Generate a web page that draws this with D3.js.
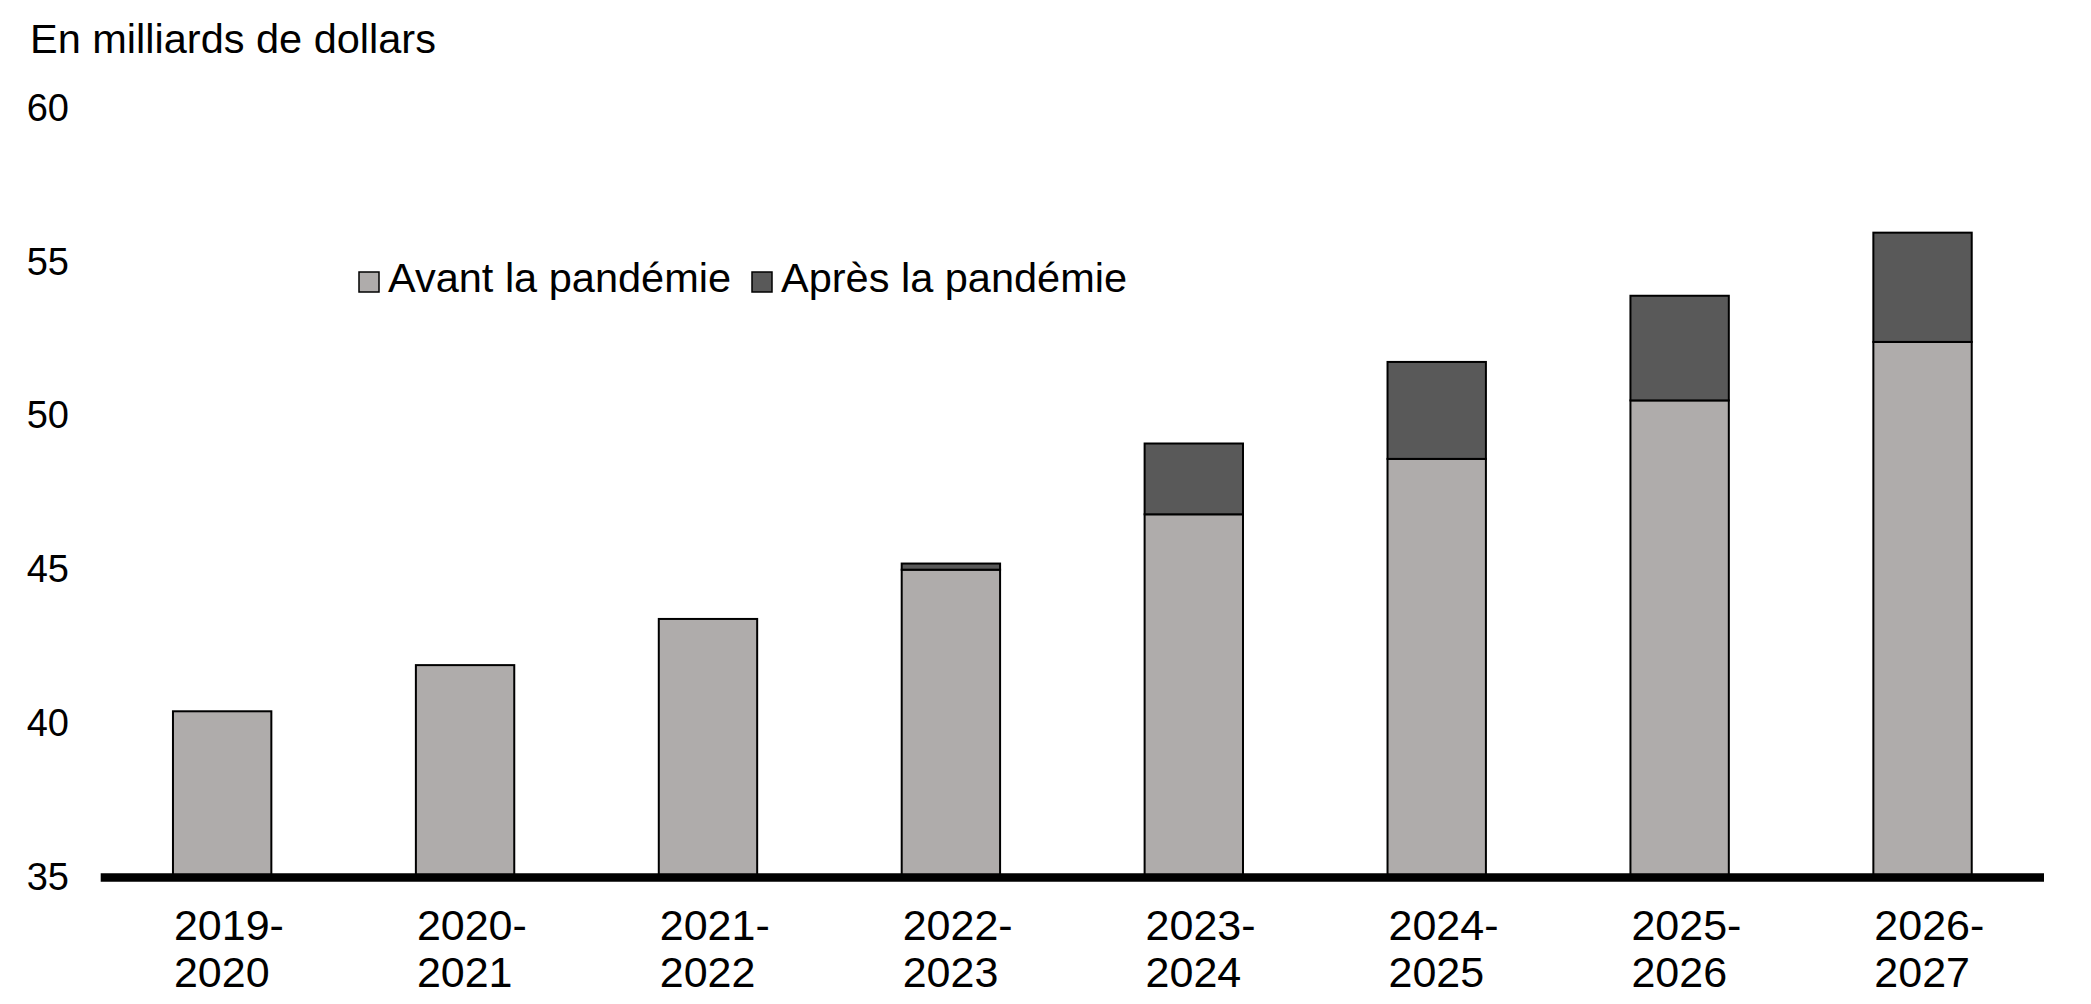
<!DOCTYPE html>
<html>
<head>
<meta charset="utf-8">
<script src="https://cdn.jsdelivr.net/npm/d3@7"></script>
<style>
  html, body { margin: 0; padding: 0; background: #fff; }
  svg { display: block; font-family: "Liberation Sans", Arial, sans-serif; }
</style>
</head>
<body>
<svg id="chart" width="2091" height="1004"></svg>
<script>
// ---- data ----
const categories = ["2019-2020", "2020-2021", "2021-2022", "2022-2023", "2023-2024", "2024-2025", "2025-2026", "2026-2027"];
const avantPandemie = [40.4, 41.9, 43.4, 45.0, 46.8, 48.6, 50.5, 52.4];
const apresPandemie = [0, 0, 0, 0.2, 2.3, 3.15, 3.4, 3.55];
const yTicks = [35, 40, 45, 50, 55, 60];
const seriesNames = ["Avant la pandémie", "Après la pandémie"];
const yTitle = "En milliards de dollars";

// ---- layout ----
const svg = d3.select("#chart");
const xLeft = 100.7, xRight = 2044;
const yBottom = 877.5, yTop = 108;
const colors = ["#afacab", "#595959"];

const x = d3.scaleBand().domain(categories).range([xLeft, xRight]).padding(0);
const barW = x.bandwidth() * 0.405;
const y = d3.scaleLinear().domain([35, 60]).range([yBottom, yTop]);

const rows = categories.map((c, i) => ({ cat: c, avant: avantPandemie[i], apres: apresPandemie[i] }));
const stacked = d3.stack().keys(["avant", "apres"])(rows);

// y title
svg.append("text")
  .attr("x", 30).attr("y", 53)
  .attr("font-size", 41.5)
  .attr("fill", "#000")
  .text(yTitle);

// y axis labels (no axis line drawn)
const yAxis = d3.axisLeft(y).tickValues(yTicks).tickSize(0).tickPadding(0).tickFormat(d3.format("d"));
const yg = svg.append("g").attr("transform", "translate(69,0)").call(yAxis);
yg.select(".domain").remove();
yg.selectAll("text").attr("font-size", 38).attr("fill", "#000")
  .attr("font-family", "\"Liberation Sans\", Arial, sans-serif");

// bars
stacked.forEach((s, si) => {
  svg.append("g").selectAll("rect").data(s).join("rect")
    .attr("x", d => x(d.data.cat) + (x.bandwidth() - barW) / 2)
    .attr("width", barW)
    .attr("y", d => y(d[1]))
    .attr("height", d => Math.max(0, y(Math.max(d[0], 35)) - y(d[1])))
    .attr("fill", colors[si])
    .attr("stroke", "#000")
    .attr("stroke-width", 2);
});

// x axis line
const xAxis = d3.axisBottom(x).tickSize(0).tickFormat("");
const xg = svg.append("g").attr("transform", `translate(0,${yBottom})`).call(xAxis);
xg.select(".domain").attr("stroke", "#000").attr("stroke-width", 8.4)
  .attr("d", `M${xLeft},0H${xRight}`);

// x labels (two lines, left aligned at bar left)
const xl = svg.append("g").selectAll("text").data(categories).join("text")
  .attr("font-size", 43).attr("fill", "#000")
  .attr("text-anchor", "start");
xl.each(function (d) {
  const parts = d.split("-");
  const bx = x(d) + (x.bandwidth() - barW) / 2 + 1;
  const t = d3.select(this);
  t.append("tspan").attr("x", bx).attr("y", 940).text(parts[0] + "-");
  t.append("tspan").attr("x", bx).attr("y", 987).text(parts[1]);
});

// legend
const legendItems = [
  { name: seriesNames[0], color: colors[0], sx: 359, tx: 388 },
  { name: seriesNames[1], color: colors[1], sx: 752, tx: 781 }
];
const lg = svg.append("g");
legendItems.forEach(it => {
  lg.append("rect").attr("x", it.sx).attr("y", 272).attr("width", 20).attr("height", 20)
    .attr("fill", it.color).attr("stroke", "#000").attr("stroke-width", 1.5);
  lg.append("text").attr("x", it.tx).attr("y", 292).attr("font-size", 41.5).attr("fill", "#000").text(it.name);
});
</script>
</body>
</html>
